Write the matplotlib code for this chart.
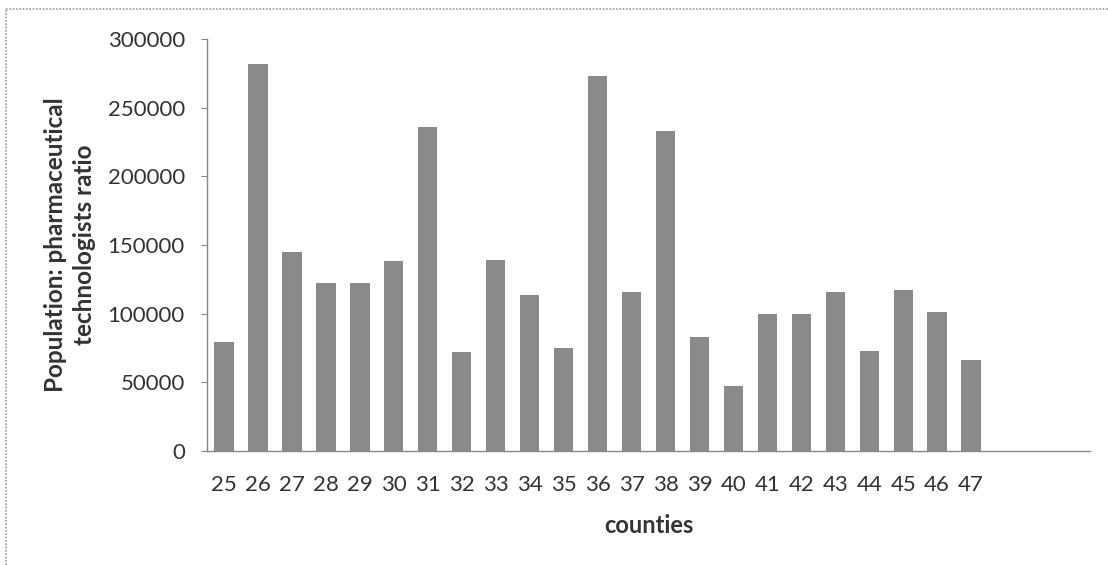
import matplotlib
matplotlib.use("Agg")
import matplotlib.pyplot as plt
from matplotlib.lines import Line2D

categories = ["25", "26", "27", "28", "29", "30", "31", "32", "33", "34", "35", "36",
              "37", "38", "39", "40", "41", "42", "43", "44", "45", "46", "47", "", "", ""]
values = [79500, 281500, 145000, 122500, 122000, 138000, 236000, 72300, 139000, 113500,
          74800, 273000, 115500, 233000, 83200, 47300, 99500, 99500, 116000, 72800,
          117200, 101000, 66200, None, None, None]
yticks = [0, 50000, 100000, 150000, 200000, 250000, 300000]

plt.rcParams['font.family'] = ['Lato', 'DejaVu Sans']

fig = plt.figure(figsize=(11.08, 5.65), dpi=100)
ax = fig.add_axes([207/1108, 1 - 451/565, (1090 - 207)/1108, (451 - 39)/565])

xs = list(range(len(categories)))
bx = [x for x, v in zip(xs, values) if v is not None]
bv = [v for v in values if v is not None]
ax.bar(bx, bv, width=0.57, color="#8a8a8a", edgecolor="none")

ax.set_xlim(-0.5, len(categories) - 0.5)
ax.set_ylim(0, 300000)
ax.set_yticks(yticks)
ax.set_yticklabels([str(t) for t in yticks], fontsize=16, color="#333333")
ax.set_xticks(xs)
ax.set_xticklabels(categories, fontsize=16, color="#333333")
ax.tick_params(axis='x', length=0, pad=17.5)
ax.tick_params(axis='y', length=4, width=0.8, color="#888888", pad=12)

for s in ["top", "right"]:
    ax.spines[s].set_visible(False)
for s in ["left", "bottom"]:
    ax.spines[s].set_color("#888888")
    ax.spines[s].set_linewidth(1.0)

ax.set_xlabel("counties", fontsize=17, fontweight="bold", color="#333333", labelpad=13.5)
ax.set_ylabel("Population: pharmaceutical\ntechnologists ratio", fontsize=17.5,
              fontweight="bold", color="#333333", labelpad=8.5, linespacing=1.3)

# outer frame (top and left only)
fig.add_artist(Line2D([6/1108, 1.0], [1 - 9/565, 1 - 9/565], transform=fig.transFigure,
                      color="#999999", lw=1.2, ls=(0, (1, 1))))
fig.add_artist(Line2D([6/1108, 6/1108], [0, 1 - 9/565], transform=fig.transFigure,
                      color="#999999", lw=1.2, ls=(0, (1, 1))))

fig.savefig("out.png", dpi=100, facecolor="white")
